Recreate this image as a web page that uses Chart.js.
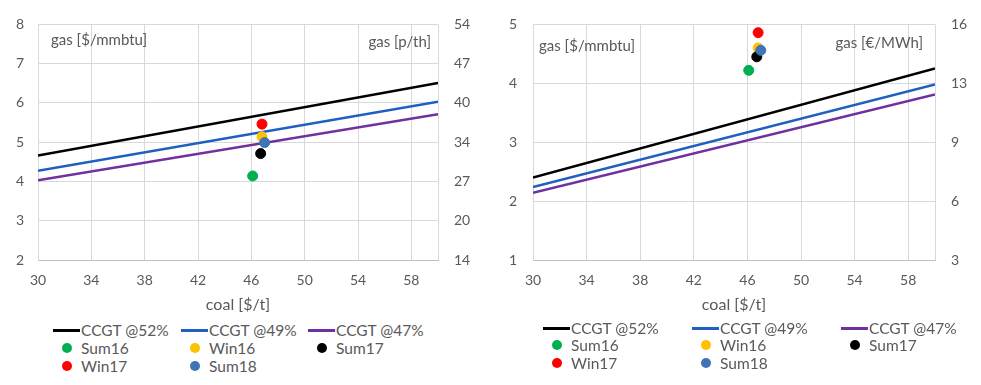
<!DOCTYPE html>
<html lang="en">
<head>
<meta charset="UTF-8">
<title>CCGT vs coal switching prices</title>
<script src="https://cdn.jsdelivr.net/npm/chart.js"></script>
<style>
    body { margin: 0; background: #ffffff; font-family: Lato, sans-serif; }
    .panel { position: absolute; top: 0; height: 385px; }
    .item { position: absolute; display: flex; align-items: center; font-size: 15.5px; color: #595959; white-space: nowrap; transform: translateY(-50%); }
    .swatch { width: 28px; height: 10px; position: relative; }
    .swatch .ln { position: absolute; left: 0; right: 1px; top: 4px; height: 3px; }
    .swatch .dot { position: absolute; left: 9px; top: 0; width: 10px; height: 10px; border-radius: 50%; }
</style>
</head>
<body>
<div class="panel" id="ukPanel" style="left:0;width:490px">
    <canvas id="ukChart" width="490" height="320"></canvas>
</div>
<div class="panel" id="euPanel" style="left:490px;width:491px">
    <canvas id="euChart" width="491" height="320"></canvas>
</div>
<script>
    // coal price axis
    const xTicks = [30, 34, 38, 42, 46, 50, 54, 58];
    const coalEnds = [30, 60];

    const lineNames = ['CCGT @52%', 'CCGT @49%', 'CCGT @47%'];
    const pointNames = ['Sum16', 'Win16', 'Sum17', 'Win17', 'Sum18'];
    const lineColors = ['#000000', '#1f5fbf', '#7030a0'];
    const pointColors = ['#00b050', '#ffc000', '#000000', '#ff0000', '#3e75b5'];

    // left panel: gas in $/mmbtu and p/th
    const ukRightTicks = ['14', '20', '27', '34', '40', '47', '54'];
    const ukLine52 = [4.66, 6.51];
    const ukLine49 = [4.27, 6.03];
    const ukLine47 = [4.03, 5.71];
    const ukCoal = [46.1, 46.8, 46.7, 46.8, 47.0];
    const ukGas = [4.14, 5.14, 4.71, 5.46, 4.99];

    // right panel: gas in $/mmbtu and €/MWh
    const euRightTicks = ['3', '6', '9', '13', '16'];
    const euLine52 = [2.40, 4.25];
    const euLine49 = [2.24, 3.98];
    const euLine47 = [2.14, 3.81];
    const euCoal = [46.1, 46.8, 46.7, 46.8, 47.0];
    const euGas = [4.22, 4.60, 4.45, 4.86, 4.56];

    const textColor = '#595959';
    const gridColor = '#d9d9d9';
    Chart.defaults.font.family = 'Lato, sans-serif';
    Chart.defaults.font.size = 14;
    Chart.defaults.color = textColor;

    const cornerLabels = {
        id: 'cornerLabels',
        afterDraw(chart, args, o) {
            const ctx = chart.ctx, a = chart.chartArea;
            ctx.save();
            ctx.font = '15px Lato, sans-serif';
            ctx.fillStyle = textColor;
            ctx.textBaseline = 'middle';
            ctx.textAlign = 'left';
            ctx.fillText(o.left, a.left + o.leftDx, a.top + o.leftDy);
            ctx.textAlign = 'right';
            ctx.fillText(o.right, a.right - o.rightDx, a.top + o.rightDy);
            ctx.restore();
        }
    };

    function makeChart(id, p) {
        const datasets = [];
        [p.l52, p.l49, p.l47].forEach((vals, i) => {
            datasets.push({
                label: lineNames[i],
                type: 'line',
                data: coalEnds.map((x, j) => ({ x: x, y: vals[j] })),
                borderColor: lineColors[i],
                backgroundColor: lineColors[i],
                borderWidth: 2.5,
                pointRadius: 0,
                showLine: true,
                order: 10 + i
            });
        });
        pointNames.forEach((name, i) => {
            datasets.push({
                label: name,
                type: 'scatter',
                data: [{ x: p.coal[i], y: p.gas[i] }],
                backgroundColor: pointColors[i],
                borderColor: pointColors[i],
                pointRadius: 5,
                pointHoverRadius: 5,
                order: 5 - i
            });
        });

        const chart = new Chart(document.getElementById(id), {
            type: 'scatter',
            data: { datasets: datasets },
            options: {
                responsive: false,
                animation: false,
                layout: { padding: { top: 24, right: 0, left: 0, bottom: 0 } },
                plugins: {
                    legend: { display: false },
                    tooltip: { enabled: false },
                    cornerLabels: p.corner
                },
                scales: {
                    x: {
                        type: 'linear', min: 30, max: 60,
                        afterBuildTicks: s => { s.ticks = xTicks.concat([60]).map(v => ({ value: v })); },
                        afterFit: s => { s.height = 60; },
                        ticks: { autoSkip: false, maxRotation: 0, padding: 12,
                                 callback: v => xTicks.includes(v) ? String(v) : '' },
                        grid: { color: gridColor, drawTicks: false },
                        border: { color: '#bfbfbf' },
                        title: { display: true, text: 'coal [$/t]', color: textColor,
                                 font: { size: 16 }, padding: { top: 0, bottom: 6 } }
                    },
                    y: {
                        min: p.yMin, max: p.yMax,
                        afterFit: s => { s.width = p.leftW; },
                        ticks: { stepSize: 1, padding: p.leftPad },
                        grid: { color: gridColor, drawTicks: false },
                        border: { color: gridColor }
                    },
                    y2: {
                        position: 'right',
                        min: p.yMin, max: p.yMax,
                        afterFit: s => { s.width = p.rightW; },
                        ticks: { stepSize: 1, padding: p.rightPad, callback: (v, i) => p.rightTicks[i] },
                        grid: { display: false, drawTicks: false },
                        border: { display: false }
                    }
                }
            },
            plugins: [cornerLabels]
        });

        // legend below the chart, three columns
        const panel = document.getElementById(p.panel);
        chart.data.datasets.forEach((ds, i) => {
            const col = i % 3, row = Math.floor(i / 3);
            const item = document.createElement('div');
            item.className = 'item';
            item.style.left = p.legCols[col] + 'px';
            item.style.top = p.legRows[row] + 'px';
            const sw = document.createElement('span');
            sw.className = 'swatch';
            const mark = document.createElement('span');
            mark.className = ds.type === 'line' ? 'ln' : 'dot';
            mark.style.background = ds.borderColor;
            sw.appendChild(mark);
            const txt = document.createElement('span');
            txt.textContent = ds.label;
            item.appendChild(sw);
            item.appendChild(txt);
            panel.appendChild(item);
        });
        return chart;
    }

    makeChart('ukChart', {
        panel: 'ukPanel',
        l52: ukLine52, l49: ukLine49, l47: ukLine47,
        coal: ukCoal, gas: ukGas,
        yMin: 2, yMax: 8, rightTicks: ukRightTicks,
        leftW: 38, rightW: 52, leftPad: 14, rightPad: 16,
        corner: { left: 'gas [$/mmbtu]', right: 'gas [p/th]', leftDx: 13, leftDy: 16, rightDx: 7, rightDy: 18 },
        legCols: [53, 181, 308], legRows: [330, 348, 366]
    });

    makeChart('euChart', {
        panel: 'euPanel',
        l52: euLine52, l49: euLine49, l47: euLine47,
        coal: euCoal, gas: euGas,
        yMin: 1, yMax: 5, rightTicks: euRightTicks,
        leftW: 43, rightW: 46, leftPad: 16, rightPad: 16,
        corner: { left: 'gas [$/mmbtu]', right: 'gas [€/MWh]', leftDx: 6, leftDy: 22, rightDx: 12, rightDy: 19 },
        legCols: [53, 202, 351], legRows: [328, 345, 363]
    });
</script>
</body>
</html>
